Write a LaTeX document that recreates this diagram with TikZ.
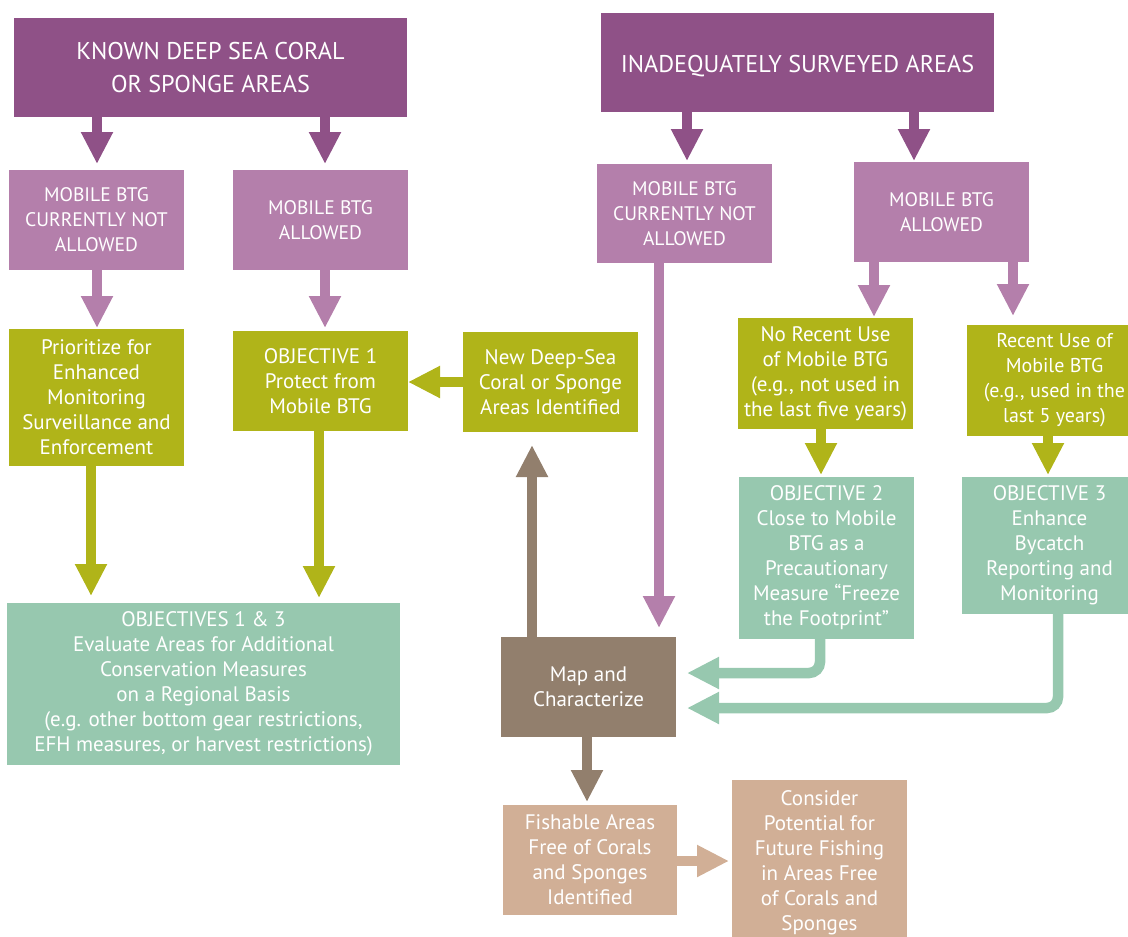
\documentclass[tikz,border=0pt]{standalone}
\usepackage{fontspec}
\setmainfont{PT Sans}
\usetikzlibrary{arrows.meta,calc}
\definecolor{dpurp}{HTML}{8F5187}
\definecolor{lpurp}{HTML}{B47FAB}
\definecolor{olive}{HTML}{B0B419}
\definecolor{teal2}{HTML}{97C8AF}
\definecolor{brownb}{HTML}{927F6D}
\definecolor{tanb}{HTML}{D1AF96}
\begin{document}
\begin{tikzpicture}[x=1pt,y=-1pt,
  box/.style={inner sep=0pt,outer sep=0pt,align=center,text=white,
    font=\fontsize{21}{25}\selectfont},
  topbox/.style={box,fill=dpurp,minimum width=393pt,minimum height=99pt,
    font=\fontsize{24.2}{33}\selectfont},
  pbox/.style={box,fill=lpurp,minimum width=175pt,minimum height=100pt,
    font=\fontsize{19.6}{25}\selectfont},
  gbox/.style={box,fill=olive,minimum width=175pt},
  tbox/.style={box,fill=teal2,minimum width=175pt},
  bbox/.style={box,fill=brownb,minimum width=175pt,minimum height=100pt},
  nbox/.style={box,fill=tanb,minimum width=175pt},
  arr/.style={line width=10.5pt,-{Triangle[width=30pt,length=32pt]}},
  parrd/.style={arr,draw=dpurp},
  parrl/.style={arr,draw=lpurp},
  garr/.style={arr,draw=olive},
  tarr/.style={arr,draw=teal2,rounded corners=11pt},
  barr/.style={arr,draw=brownb},
  narr/.style={arr,draw=tanb}]
\useasboundingbox (0,0) rectangle (1128,937);
\clip (0,0) rectangle (1128,937);
% boxes
\node[topbox] (KL) at (210.5,67.5) {KNOWN DEEP SEA CORAL\\OR SPONGE AREAS};
\node[topbox,text height=24pt,text depth=4pt] (KR) at (797.5,62.5) {INADEQUATELY SURVEYED AREAS};
\node[pbox] (L1) at (96.5,220) {MOBILE BTG\\CURRENTLY NOT\\ALLOWED};
\node[pbox] (L2) at (320.5,220) {MOBILE BTG\\ALLOWED};
\node[pbox,minimum height=99pt] (R1) at (684.5,213.5) {MOBILE BTG\\CURRENTLY NOT\\ALLOWED};
\node[pbox] (R2) at (941.5,212) {MOBILE BTG\\ALLOWED};
\node[gbox,minimum height=137pt] (G1) at (96.5,397.5) {Prioritize for\\Enhanced\\Monitoring\\Surveillance and\\Enforcement};
\node[gbox,minimum height=100pt] (G2) at (320.5,381) {OBJECTIVE 1\\Protect from\\Mobile BTG};
\node[gbox,minimum height=100pt] (G3) at (550.5,382) {New Deep-Sea\\Coral or Sponge\\Areas Identified};
\node[gbox,minimum height=111pt] (G4) at (825.5,373.5) {No Recent Use\\of Mobile BTG\\(e.g., not used in\\the last five years)};
\node[gbox,minimum height=111pt,font=\fontsize{20}{25}\selectfont] (G5) at (1054.5,380.5) {Recent Use of\\Mobile BTG\\(e.g., used in the\\last 5 years)};
\node[tbox,minimum width=393pt,minimum height=162pt] (T1) at (203.5,684) {OBJECTIVES 1 \& 3\\Evaluate Areas for Additional\\Conservation Measures\\on a Regional Basis\\(e.g. other bottom gear restrictions,\\EFH measures, or harvest restrictions)};
\node[tbox,minimum height=162pt] (T2) at (826.5,558) {OBJECTIVE 2\\Close to Mobile\\BTG as a\\Precautionary\\Measure “Freeze\\the Footprint”};
\node[tbox,minimum height=137pt] (T3) at (1049.5,545.5) {OBJECTIVE 3\\Enhance\\Bycatch\\Reporting and\\Monitoring};
\node[bbox] (M) at (588.5,687) {Map and\\Characterize};
\node[nbox,minimum width=174pt,minimum height=110pt] (F) at (590,860) {Fishable Areas\\Free of Corals\\and Sponges\\Identified};
\node[nbox,minimum height=165pt] (C) at (819.5,862.5) {Consider\\Potential for\\Future Fishing\\in Areas Free\\of Corals and\\Sponges};
% arrow guide coordinates
\coordinate (a1) at (97,0);
\coordinate (a2) at (325,0);
\coordinate (a5) at (91,0);
\coordinate (a6) at (319,0);
\coordinate (a7) at (0,382);
\coordinate (a8) at (532,0);
\coordinate (a9) at (687,0);
\coordinate (a10) at (914,0);
\coordinate (a11) at (659,0);
\coordinate (a12) at (874,0);
\coordinate (a13) at (1013,0);
\coordinate (a14) at (821,0);
\coordinate (a15) at (1048,0);
\coordinate (e1) at (820,673);
\coordinate (e2) at (1058,708);
\coordinate (a18) at (587,0);
\coordinate (a19) at (0,861);
% arrows
\draw[parrd,shorten >=6pt] (KL.south -| a1) -- (L1.north -| a1);
\draw[parrd,shorten >=6pt] (KL.south -| a2) -- (L2.north -| a2);
\draw[parrl,shorten >=1pt] (L1.south -| a1) -- (G1.north -| a1);
\draw[parrl,shorten >=3pt] (L2.south -| a2) -- (G2.north -| a2);
\draw[garr,shorten >=7pt] (G1.south -| a5) -- (T1.north -| a5);
\draw[garr,shorten >=5pt] (G2.south -| a6) -- (T1.north -| a6);
\draw[garr] (G3.west |- a7) -- (G2.east |- a7);
\draw[barr,shorten >=13pt] (M.north -| a8) -- (G3.south -| a8);
\draw[parrd,shorten >=3pt] (KR.south -| a9) -- (R1.north -| a9);
\draw[parrd,shorten >=1pt] (KR.south -| a10) -- (R2.north -| a10);
\draw[parrl,shorten >=9pt] (R1.south -| a11) -- (M.north -| a11);
\draw[parrl,shorten >=1pt] (R2.south -| a12) -- (G4.north -| a12);
\draw[parrl,shorten >=9pt] (R2.south -| a13) -- (G5.north -| a13);
\draw[garr,shorten >=2pt] (G4.south -| a14) -- (T2.north -| a14);
\draw[garr,shorten >=2pt] (G5.south -| a15) -- (T3.north -| a15);
\draw[tarr,shorten >=11pt] (T2.south -| e1) -- (e1) -- (M.east |- e1);
\draw[tarr,shorten >=11pt] (T3.south -| e2) -- (e2) -- (M.east |- e2);
\draw[barr,shorten >=3pt] (M.south -| a18) -- (F.north -| a18);
\draw[narr,shorten >=3pt] (F.east |- a19) -- (C.west |- a19);
\end{tikzpicture}
\end{document}
